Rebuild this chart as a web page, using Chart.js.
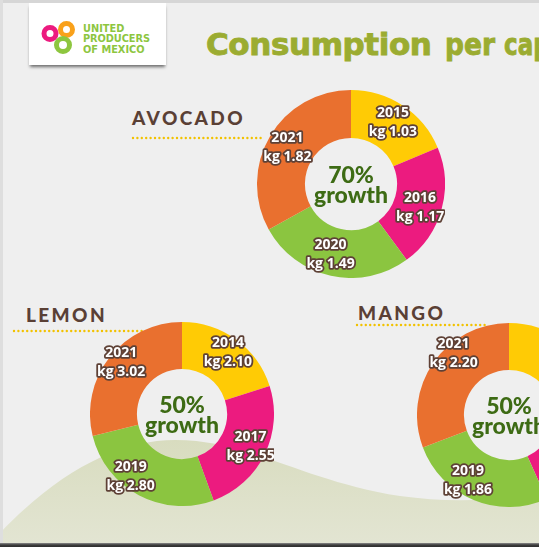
<!DOCTYPE html>
<html>
<head>
<meta charset="utf-8">
<script src="https://cdn.jsdelivr.net/npm/chart.js@4.4.0/dist/chart.umd.min.js"></script>
<style>
  html, body { margin: 0; padding: 0; }
  body { width: 539px; height: 547px; overflow: hidden; position: relative; background: #efefef; }
  #bg { position: absolute; left: 0; top: 0; }
  canvas.donut { position: absolute; }
  #logoBox { position: absolute; left: 29px; top: 3px; width: 137px; height: 62px; background: #fff;
             box-shadow: 0 3px 3px -1px rgba(0,0,0,0.55); }
</style>
</head>
<body>
<svg id="bg" width="539" height="547" xmlns="http://www.w3.org/2000/svg">
  <defs>
    <linearGradient id="hillGrad" x1="0" y1="0" x2="0" y2="1">
      <stop offset="0" stop-color="#d8dcbf"/>
      <stop offset="1" stop-color="#e3e5d3"/>
    </linearGradient>
    <linearGradient id="botGrad" x1="0" y1="0" x2="0" y2="1">
      <stop offset="0" stop-color="#8a8a8a"/>
      <stop offset="0.5" stop-color="#3c3c3c"/>
      <stop offset="1" stop-color="#2e2e2e"/>
    </linearGradient>
  </defs>
  <rect x="0" y="0" width="539" height="547" fill="#efefef"/>
  <path d="M0,533 C60,470 120,440 175,440 C250,440 300,480 400,496 C450,503 500,501 539,492 L539,547 L0,547 Z" fill="url(#hillGrad)"/>
  <rect x="0" y="0" width="539" height="3" fill="#d6d6d6"/>
  <rect x="0" y="0" width="3" height="547" fill="#dedede"/>
  <rect x="0" y="543" width="539" height="4" fill="url(#botGrad)"/>
</svg>
<div id="logoBox"></div>
<svg id="fg" width="539" height="547" style="position:absolute;left:0;top:0" xmlns="http://www.w3.org/2000/svg">
  <circle cx="66.5" cy="29.5" r="6" fill="none" stroke="#f9a11b" stroke-width="5"/>
  <circle cx="50" cy="33.5" r="6" fill="none" stroke="#ec1b7f" stroke-width="5"/>
  <circle cx="63" cy="45" r="6.5" fill="none" stroke="#8dc63f" stroke-width="5"/>
  <g font-family="DejaVu Sans" font-weight="bold" font-size="9.8" fill="#8dc63f">
    <text x="83" y="31.5">UNITED</text>
    <text x="83" y="42" textLength="67">PRODUCERS</text>
    <text x="83" y="52.5">OF MEXICO</text>
  </g>
  <g font-family="DejaVu Sans" font-weight="bold" font-size="31" fill="#9bac31" stroke="#9bac31" stroke-width="0.9">
    <text x="206" y="55" letter-spacing="-0.4">Consumption</text>
    <text x="445" y="55" textLength="50" lengthAdjust="spacingAndGlyphs">per</text>
    <text x="504" y="55" textLength="80" lengthAdjust="spacingAndGlyphs">capita</text>
  </g>
  <g font-family="Lato" font-weight="900" font-size="19" fill="#5a4035" letter-spacing="2.4">
    <text x="132" y="125">AVOCADO</text>
    <text x="26" y="322">LEMON</text>
    <text x="358" y="320">MANGO</text>
  </g>
  <g stroke="#f2c200" stroke-width="2.4" stroke-linecap="round" stroke-dasharray="0 4.4" fill="none">
    <line x1="133" y1="138" x2="262" y2="138"/>
    <line x1="14" y1="331" x2="143" y2="331"/>
    <line x1="357" y1="325" x2="485" y2="325"/>
  </g>
</svg>
<canvas id="avocado" class="donut" width="188" height="188" style="left:257px;top:90px"></canvas>
<canvas id="lemon" class="donut" width="184" height="184" style="left:90px;top:322px"></canvas>
<canvas id="mango" class="donut" width="184" height="184" style="left:417px;top:323px"></canvas>
<script>
// ---- data ----
const avocadoYears = ['2015', '2016', '2020', '2021'];
const avocadoKg = [1.03, 1.17, 1.49, 1.82];
const avocadoGrowth = '70%';

const lemonYears = ['2014', '2017', '2019', '2021'];
const lemonKg = [2.10, 2.55, 2.80, 3.02];
const lemonGrowth = '50%';

const mangoYears = ['2014', '2017', '2019', '2021'];
const mangoKg = [1.47, 1.63, 1.86, 2.20];
const mangoGrowth = '50%';

const sliceColors = ['#ffcb05', '#ec1b7f', '#8bc540', '#e9702f'];
const growthWord = 'growth';
const unitPrefix = 'kg ';

// ---- plugins ----
const sliceLabels = {
  id: 'sliceLabels',
  afterDatasetsDraw(chart, args, opts) {
    const ctx = chart.ctx;
    const meta = chart.getDatasetMeta(0);
    const years = chart.data.labels;
    const vals = chart.data.datasets[0].data;
    const shift = opts.shift || [0, 0, 0, 0];
    const rad = opts.rad || [0.7, 0.7, 0.7, 0.7];
    ctx.save();
    ctx.font = 'bold 14px "Open Sans"';
    ctx.textAlign = 'center';
    ctx.textBaseline = 'alphabetic';
    ctx.lineJoin = 'round';
    meta.data.forEach((arc, i) => {
      const p = arc.getProps(['x', 'y', 'startAngle', 'endAngle', 'innerRadius', 'outerRadius'], true);
      const mid = (p.startAngle + p.endAngle) / 2 + shift[i] * Math.PI / 180;
      const r = p.innerRadius + (p.outerRadius - p.innerRadius) * rad[i];
      const cx = p.x + Math.cos(mid) * r;
      const cy = p.y + Math.sin(mid) * r;
      const lines = [years[i], unitPrefix + vals[i].toFixed(2)];
      const ys = [cy - 4, cy + 15];
      lines.forEach((t, k) => {
        ctx.lineWidth = 3.6;
        ctx.strokeStyle = '#5e4136';
        ctx.strokeText(t, cx, ys[k]);
        ctx.fillStyle = '#ffffff';
        ctx.fillText(t, cx, ys[k]);
      });
    });
    ctx.restore();
  }
};

const centerText = {
  id: 'centerText',
  afterDraw(chart, args, opts) {
    const ctx = chart.ctx;
    const a = chart.chartArea;
    const cx = (a.left + a.right) / 2;
    const cy = (a.top + a.bottom) / 2;
    ctx.save();
    ctx.font = '900 23px Lato';
    ctx.fillStyle = '#3d6b14';
    ctx.textAlign = 'center';
    ctx.textBaseline = 'alphabetic';
    ctx.fillText(opts.growth, cx, cy - 1);
    ctx.fillText(growthWord, cx, cy + 19);
    ctx.restore();
  }
};

function makeDonut(id, years, values, growth, labelOpts) {
  return new Chart(document.getElementById(id), {
    type: 'doughnut',
    data: {
      labels: years,
      datasets: [{ data: values, backgroundColor: sliceColors, borderWidth: 0, hoverOffset: 0 }]
    },
    options: {
      responsive: false,
      animation: false,
      cutout: '49%',
      layout: { padding: 0 },
      plugins: {
        legend: { display: false },
        tooltip: { enabled: false },
        centerText: { growth: growth },
        sliceLabels: labelOpts
      }
    },
    plugins: [sliceLabels, centerText]
  });
}

makeDonut('avocado', avocadoYears, avocadoKg, avocadoGrowth,
  { shift: [0, 2, 4, 0], rad: [0.62, 0.55, 0.55, 0.58] });
makeDonut('lemon', lemonYears, lemonKg, lemonGrowth,
  { shift: [0, -2, 12, 3], rad: [0.7, 0.64, 0.74, 0.76] });
makeDonut('mango', mangoYears, mangoKg, mangoGrowth,
  { shift: [10, 0, 10, 14], rad: [0.7, 0.7, 0.66, 0.83] });
</script>
</body>
</html>
